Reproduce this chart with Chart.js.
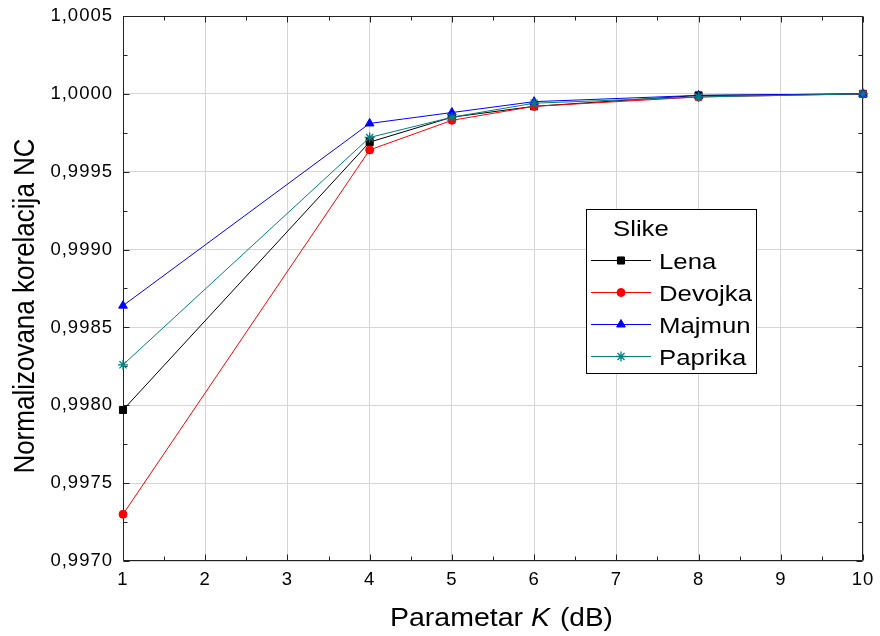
<!DOCTYPE html>
<html><head><meta charset="utf-8">
<style>html,body{margin:0;padding:0;background:#fff;}#wrap{width:880px;height:636px;}</style>
<script src="https://cdn.jsdelivr.net/npm/chart.js@4/dist/chart.umd.min.js"></script>
</head><body><div id="wrap"><canvas id="c" width="880" height="636"></canvas></div>
<script>
// ---- data ----
const kValues = [1, 4, 5, 6, 8, 10];
const seriesNames = ['Lena', 'Devojka', 'Majmun', 'Paprika'];
const lena    = [0.99797, 0.99969, 0.99985, 0.99992, 0.99999, 1.00000];
const devojka = [0.99730, 0.99964, 0.99983, 0.99992, 0.99998, 1.00000];
const majmun  = [0.99864, 0.99981, 0.99988, 0.99995, 0.99999, 1.00000];
const paprika = [0.99826, 0.99972, 0.99985, 0.99994, 0.99998, 1.00000];
const xTickValues = [1, 2, 3, 4, 5, 6, 7, 8, 9, 10];
const yTickValues = [0.9970, 0.9975, 0.9980, 0.9985, 0.9990, 0.9995, 1.0000, 1.0005];
const legendTitle = 'Slike';
const yTitle = 'Normalizovana korelacija NC';
const xTitleParts = ['Parametar', 'K', '(dB)'];

const FONT = "'Liberation Sans', Arial, sans-serif";

function pts(arr) { return kValues.map((k, i) => ({ x: k, y: arr[i] })); }

const styles = [
  { color: '#000000', pointStyle: 'rect', radius: 5, bw: 1 },
  { color: '#ff0000', pointStyle: 'circle', radius: 4, bw: 1 },
  { color: '#0000ff', pointStyle: 'triangle', radius: 5, bw: 1 },
  { color: '#008080', pointStyle: 'star', radius: 5, bw: 1.3 }
];
const allSeries = [lena, devojka, majmun, paprika];

const datasets = allSeries.map((s, i) => ({
  label: seriesNames[i],
  data: pts(s),
  borderColor: styles[i].color,
  backgroundColor: styles[i].color,
  pointBackgroundColor: styles[i].color,
  pointBorderColor: styles[i].color,
  pointStyle: styles[i].pointStyle,
  pointRadius: styles[i].radius,
  pointBorderWidth: styles[i].bw,
  borderWidth: 1,
  tension: 0,
  clip: false,
  order: 4 - i
}));

function stretchText(ctx, text, x, y, sx) {
  ctx.save();
  ctx.translate(x, y);
  ctx.scale(sx, 1);
  ctx.fillText(text, 0, 0);
  ctx.restore();
}

const spacingPlugin = {
  id: 'spacing',
  beforeDraw(chart) { chart.ctx.letterSpacing = '1px'; },
  afterDraw(chart) { chart.ctx.letterSpacing = '0px'; }
};

const framePlugin = {
  id: 'frame',
  beforeDatasetsDraw(chart) {
    const ctx = chart.ctx, ca = chart.chartArea;
    const xs = chart.scales.x, ys = chart.scales.y;
    const L = Math.round(ca.left) + 0.5, R = Math.round(ca.right) - 0.5;
    const T = Math.round(ca.top) + 0.5, B = Math.round(ca.bottom) - 0.5;
    ctx.save();
    ctx.letterSpacing = '0px';
    ctx.strokeStyle = '#222';
    ctx.lineWidth = 1;
    ctx.beginPath();
    ctx.rect(L, T, R - L, B - T);
    ctx.stroke();
    ctx.beginPath();
    for (let v = 1; v <= 10.001; v += 0.5) {
      const px = Math.round(xs.getPixelForValue(v)) + 0.5;
      const len = Math.abs(v - Math.round(v)) < 1e-6 ? 6 : 4;
      ctx.moveTo(px, B); ctx.lineTo(px, B - len);
      ctx.moveTo(px, T); ctx.lineTo(px, T + len);
    }
    for (let j = 0; j <= 14; j++) {
      const v = 0.9970 + j * 0.00025;
      const py = Math.round(ys.getPixelForValue(v)) + 0.5;
      const len = j % 2 === 0 ? 6 : 4;
      ctx.moveTo(L, py); ctx.lineTo(L + len, py);
      ctx.moveTo(R, py); ctx.lineTo(R - len, py);
    }
    ctx.stroke();
    ctx.restore();
  },
  afterDatasetsDraw(chart) {
    const ctx = chart.ctx;
    ctx.save();
    ctx.letterSpacing = '0px';
    ctx.fillStyle = '#fff';
    ctx.fillRect(586.5, 209.5, 170, 164);
    ctx.strokeStyle = '#000';
    ctx.lineWidth = 1;
    ctx.strokeRect(586.5, 209.5, 170, 164);
    ctx.fillStyle = '#000';
    ctx.font = '22px ' + FONT;
    ctx.textAlign = 'left';
    ctx.textBaseline = 'alphabetic';
    stretchText(ctx, legendTitle, 613, 236, 1.17);
    const lineYs = [260.5, 292.5, 324.5, 356.5];
    chart.data.datasets.forEach((ds, i) => {
      const y = lineYs[i];
      ctx.strokeStyle = ds.borderColor;
      ctx.lineWidth = 1;
      ctx.beginPath();
      ctx.moveTo(591, y); ctx.lineTo(651, y);
      ctx.stroke();
      ctx.fillStyle = ds.pointBackgroundColor;
      ctx.strokeStyle = ds.pointBorderColor;
      ctx.lineWidth = ds.pointBorderWidth;
      Chart.helpers.drawPoint(ctx, { pointStyle: ds.pointStyle, radius: ds.pointRadius, rotation: 0, borderWidth: ds.pointBorderWidth }, 621, y);
      ctx.fillStyle = '#000';
      ctx.font = '22px ' + FONT;
      stretchText(ctx, ds.label, 659, y + 8, 1.17);
    });
    ctx.fillStyle = '#000';
    ctx.font = '25px ' + FONT;
    ctx.textAlign = 'left';
    stretchText(ctx, xTitleParts[0], 390, 626, 1.14);
    ctx.font = 'italic 25px ' + FONT;
    stretchText(ctx, xTitleParts[1], 531, 626, 1.14);
    ctx.font = '25px ' + FONT;
    stretchText(ctx, xTitleParts[2], 560, 626, 1.12);

    ctx.save();
    ctx.translate(34, 306);
    ctx.rotate(-Math.PI / 2);
    ctx.scale(1, 1.12);
    ctx.font = '26px ' + FONT;
    ctx.textAlign = 'center';
    ctx.fillText(yTitle, 0, 0);
    ctx.restore();
    ctx.restore();
  }
};

new Chart(document.getElementById('c'), {
  type: 'line',
  data: { datasets },
  options: {
    responsive: false,
    devicePixelRatio: 1,
    animation: false,
    layout: { padding: { top: 16, right: 17, left: 0, bottom: 0 } },
    plugins: { legend: { display: false }, tooltip: { enabled: false } },
    scales: {
      x: {
        type: 'linear', min: 1, max: 10,
        afterBuildTicks: s => { s.ticks = xTickValues.map(v => ({ value: v })); },
        afterFit: s => { s.height = 75; s.paddingLeft = 0; s.paddingRight = 0; },
        grid: { color: '#d6d6d6', lineWidth: 1, drawTicks: false },
        border: { display: false },
        ticks: { color: '#000', font: { family: FONT, size: 18.5 }, padding: 8, maxRotation: 0, autoSkip: false,
                 callback: v => String(v) }
      },
      y: {
        type: 'linear', min: 0.9970, max: 1.0005,
        afterBuildTicks: s => { s.ticks = yTickValues.map(v => ({ value: v })); },
        afterFit: s => { s.width = 123; s.paddingTop = 0; s.paddingBottom = 0; },
        grid: { color: '#d6d6d6', lineWidth: 1, drawTicks: false },
        border: { display: false },
        ticks: { color: '#000', font: { family: FONT, size: 18.5 }, padding: 10, autoSkip: false,
                 callback: v => v.toFixed(4).replace('.', ',') }
      }
    }
  },
  plugins: [spacingPlugin, framePlugin]
});
</script>
</body></html>
